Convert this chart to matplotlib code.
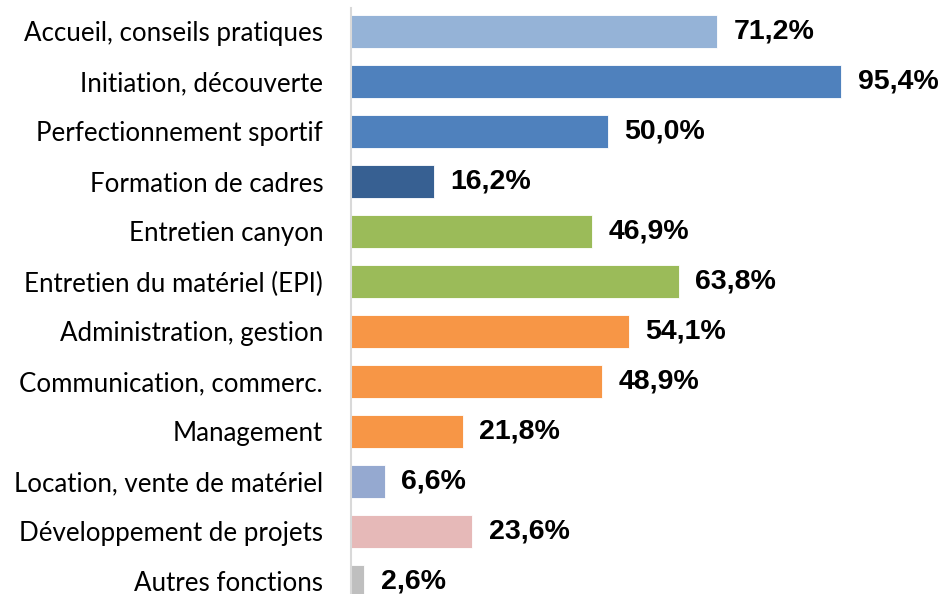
import matplotlib
matplotlib.use("Agg")
import matplotlib.pyplot as plt

categories = ["Accueil, conseils pratiques", "Initiation, découverte",
              "Perfectionnement sportif", "Formation de cadres",
              "Entretien canyon", "Entretien du matériel (EPI)",
              "Administration, gestion", "Communication, commerc.",
              "Management", "Location, vente de matériel",
              "Développement de projets", "Autres fonctions"]
values = [71.2, 95.4, 50.0, 16.2, 46.9, 63.8, 54.1, 48.9, 21.8, 6.6, 23.6, 2.6]
colors = ["#95B3D7", "#4F81BD", "#4F81BD", "#376092", "#9BBB59", "#9BBB59",
          "#F79646", "#F79646", "#F79646", "#95A9D0", "#E6B9B8", "#BFBFBF"]

fig = plt.figure(figsize=(9.44, 5.94), dpi=100)
ax = fig.add_axes([351 / 944, 0, 1 - 351 / 944, 586 / 594])

y = list(range(len(categories)))
ax.barh(y, values, height=0.66, color=colors, edgecolor="white", linewidth=0.6)

for i, v in enumerate(values):
    ax.text(v + 3.2, i, f"{v:.1f}%".replace(".", ","), va="center", ha="left",
            fontsize=20.5, fontweight="bold", family="Liberation Sans", color="black")

ax.set_xlim(0, 115.4)
ax.set_ylim(11.25, -0.47)
ax.set_yticks(y)
ax.set_yticklabels(categories, fontsize=18.6, family="Lato")
ax.tick_params(axis="y", length=0, pad=20)
ax.set_xticks([])
for s in ["top", "right", "bottom"]:
    ax.spines[s].set_visible(False)
ax.spines["left"].set_color("#D9D9D9")
ax.spines["left"].set_linewidth(1.5)

fig.savefig("out.png", dpi=100)
